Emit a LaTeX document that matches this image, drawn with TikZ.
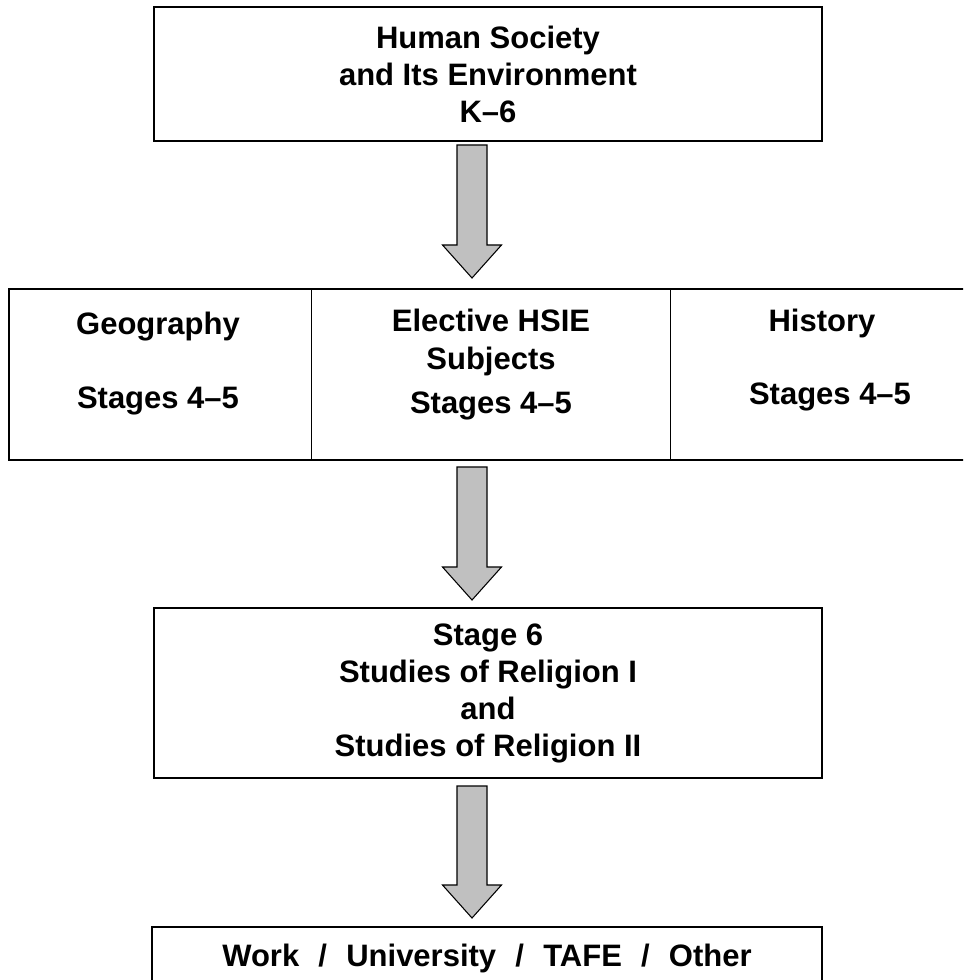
\documentclass[tikz,border=0pt]{standalone}
\usepackage{fontspec}
\setmainfont{Liberation Sans}
\usetikzlibrary{calc}
\definecolor{arrowgray}{RGB}{192,192,192}
\tikzset{
  txtfont/.style={font=\bfseries\fontsize{23.25}{27.75}\selectfont},
  box/.style={draw, line width=1.5pt, inner sep=0pt, align=center, txtfont},
  cell/.style={draw=none, inner sep=0pt},
  lbl/.style={inner sep=0pt, anchor=base, txtfont},
  blk/.style={draw, fill=arrowgray, line width=0.8pt, line join=miter},
}
\newcommand\blockarrow[2]{%
  \draw[blk] ($(#1)+(-15,0)$) -- ($(#1)+(15,0)$) -- ($(#2)+(15,-33)$) -- ($(#2)+(29.5,-33)$) -- (#2)
    -- ($(#2)+(-29.5,-33)$) -- ($(#2)+(-15,-33)$) -- cycle;}
\begin{document}
\begin{tikzpicture}[x=0.75pt,y=-0.75pt]
\path[use as bounding box] (0,0) rectangle (963,980);
\clip (0,0) rectangle (963,980);

% top box
\node[box, minimum width=501pt, minimum height=100.5pt] (top) at (488,74)
  {Human Society\\and Its Environment\\K–6};

% middle row
\node[cell, minimum width=226.5pt, minimum height=128.25pt] (cellG) at (160,374.5) {};
\node[cell, minimum width=269.25pt, minimum height=128.25pt] (cellE) at (490.5,374.5) {};
\node[cell, minimum width=234pt, minimum height=128.25pt] (cellH) at (826,374.5) {};
\draw[line width=0.8pt] (cellG.north east) -- (cellG.south east);
\draw[line width=0.8pt] (cellE.north east) -- (cellE.south east);
\draw[line width=1.5pt] (cellG.north west) rectangle (cellH.south east);

\node[lbl] (g1) at (158,334) {Geography};
\node[lbl] (g2) at (158,408) {Stages 4–5};
\node[lbl] (e1) at (491,331) {Elective HSIE};
\node[lbl] (e2) at (491,369) {Subjects};
\node[lbl] (e3) at (491,413) {Stages 4–5};
\node[lbl] (h1) at (822,331) {History};
\node[lbl] (h2) at (830,404) {Stages 4–5};

% stage 6 box
\node[box, minimum width=501pt, minimum height=127.5pt] (s6) at (488,693)
  {Stage 6\\Studies of Religion I\\and\\Studies of Religion II};

% bottom box
\node[box, minimum width=502.5pt, minimum height=46.5pt] (out) at (487,958)
  {Work\hspace{0.62em}/\hspace{0.62em}University\hspace{0.62em}/\hspace{0.62em}TAFE\hspace{0.62em}/\hspace{0.62em}Other};

% block arrows
\coordinate (a1s) at (472,145); \coordinate (a1t) at (472,278);
\coordinate (a2s) at (472,467); \coordinate (a2t) at (472,600);
\coordinate (a3s) at (472,786); \coordinate (a3t) at (472,918);
\blockarrow{a1s}{a1t}
\blockarrow{a2s}{a2t}
\blockarrow{a3s}{a3t}
\end{tikzpicture}
\end{document}
